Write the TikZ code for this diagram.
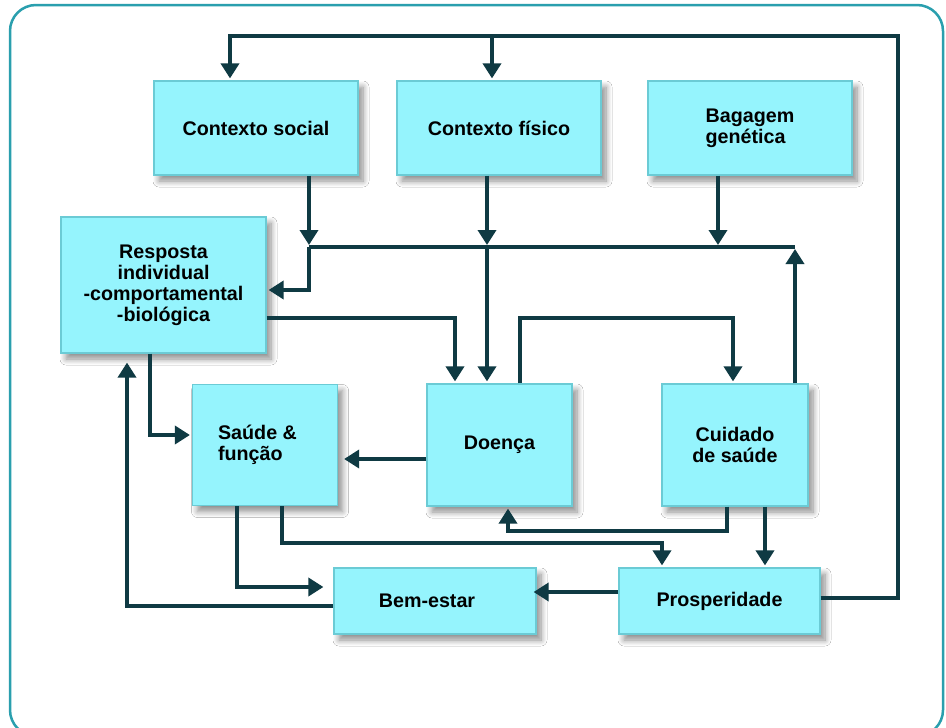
\documentclass[tikz,border=0pt]{standalone}
\usepackage{fontspec}
\setmainfont{Liberation Sans}
\usetikzlibrary{arrows.meta,shadows.blur}
\definecolor{boxfill}{HTML}{95F4FD}
\definecolor{boxedge}{HTML}{6BCBD5}
\definecolor{wirec}{HTML}{0F3A43}
\definecolor{framec}{HTML}{2A9FAE}
\begin{document}
\begin{tikzpicture}[x=1pt,y=-1pt,
 box/.style={draw=boxedge, line width=1.2pt, fill=boxfill, inner sep=0pt, align=center,
   font=\bfseries\fontsize{19.7}{21}\selectfont,
   blur shadow={shadow xshift=5pt, shadow yshift=-6pt, shadow blur radius=6pt, shadow blur steps=8, shadow opacity=45}},
 wire/.style={draw=wirec, line width=3.5pt, line join=miter},
 arr/.style={wire, -{Triangle[width=18pt,length=15pt]}, shorten >=2pt}]
\useasboundingbox (0,0) rectangle (946,728);
\fill[white] (0,0) rectangle (946,728);
\draw[framec, line width=2.5pt, rounded corners=26pt] (10,5) rectangle (943,736);

% boxes
\node[box, minimum width=204pt, minimum height=94pt] (cs) at (256,128) {Contexto social};
\node[box, minimum width=204pt, minimum height=94pt] (cf) at (499,128) {Contexto físico};
\node[box, minimum width=204pt, minimum height=94pt, align=left] (bg) at (750,128) {Bagagem\\genética};
\node[box, minimum width=205pt, minimum height=136pt] (rs) at (163.5,285) {Resposta\\individual\\-comportamental\\-biológica\\[-17pt]\mbox{}};
\node[box, minimum width=145pt, minimum height=121pt, align=left] (sf) at (265,445) {Saúde \&\hspace*{15pt}\\função};
\node[box, minimum width=145pt, minimum height=122pt] (do) at (499.5,445) {Doença};
\node[box, minimum width=146pt, minimum height=122pt] (cu) at (735,445) {Cuidado\\de saúde};
\node[box, minimum width=202pt, minimum height=66pt, align=left] (be) at (435,601) {Bem-estar\hspace*{16pt}};
\node[box, minimum width=201pt, minimum height=66pt] (pr) at (719.5,601) {Prosperidade};

% coordinates
\coordinate (topR) at (898,36);
\coordinate (topL) at (230,36);
\coordinate (topM) at (492,36);
\coordinate (b1) at (309,247);
\coordinate (b2) at (487,247);
\coordinate (b3) at (795,247);
\coordinate (b4) at (718,247);
\coordinate (c1) at (733,318);
\coordinate (p1) at (662,543);
\coordinate (q1) at (508,531);

% top loop
\draw[arr] ([yshift=3pt]pr.east) -| (topR) -- (topL) -- (topL |- cs.north);
\draw[arr] (topM) -- (topM |- cf.north);

% bus
\draw[wire] (b1) -- (b3);
\draw[arr] (cs.south -| b1) -- (b1);
\draw[arr] (cf.south -| b2) -- (b2);
\draw[arr] (bg.south -| b4) -- (b4);
\draw[arr] (cu.north -| b3) -- (b3);
\draw[arr] (b1) |- ([yshift=-5pt]rs.east);
\draw[arr] (b2) -- (b2 |- do.north);

% others
\draw[arr] ([yshift=-33pt]rs.east) -| ([xshift=-44.5pt]do.north);
\draw[arr] ([xshift=20.5pt]do.north) |- (c1) -- (c1 |- cu.north);
\draw[arr, shorten >=6pt] ([yshift=-14pt]do.west) -- ([yshift=-14pt]sf.east);
\draw[arr] ([xshift=-13.5pt]rs.south) |- ([yshift=10pt]sf.west);
\draw[arr, shorten >=0pt] ([yshift=-5pt]be.west) -| ([xshift=-36.5pt,yshift=-9pt]rs.south);
\draw[arr, shorten >=10pt] ([xshift=-28pt]sf.south) |- ([yshift=14pt]be.west);
\draw[arr] ([xshift=17pt]sf.south) |- (p1) -- (p1 |- pr.north);
\draw[arr] ([xshift=-8pt]cu.south) |- (q1) -- (q1 |- do.south);
\draw[arr] ([xshift=30pt]cu.south) -- ([xshift=30pt]cu.south |- pr.north);
\draw[arr, shorten >=-3pt] ([yshift=9pt]pr.west) -- ([yshift=9pt]be.east);
\end{tikzpicture}
\end{document}
